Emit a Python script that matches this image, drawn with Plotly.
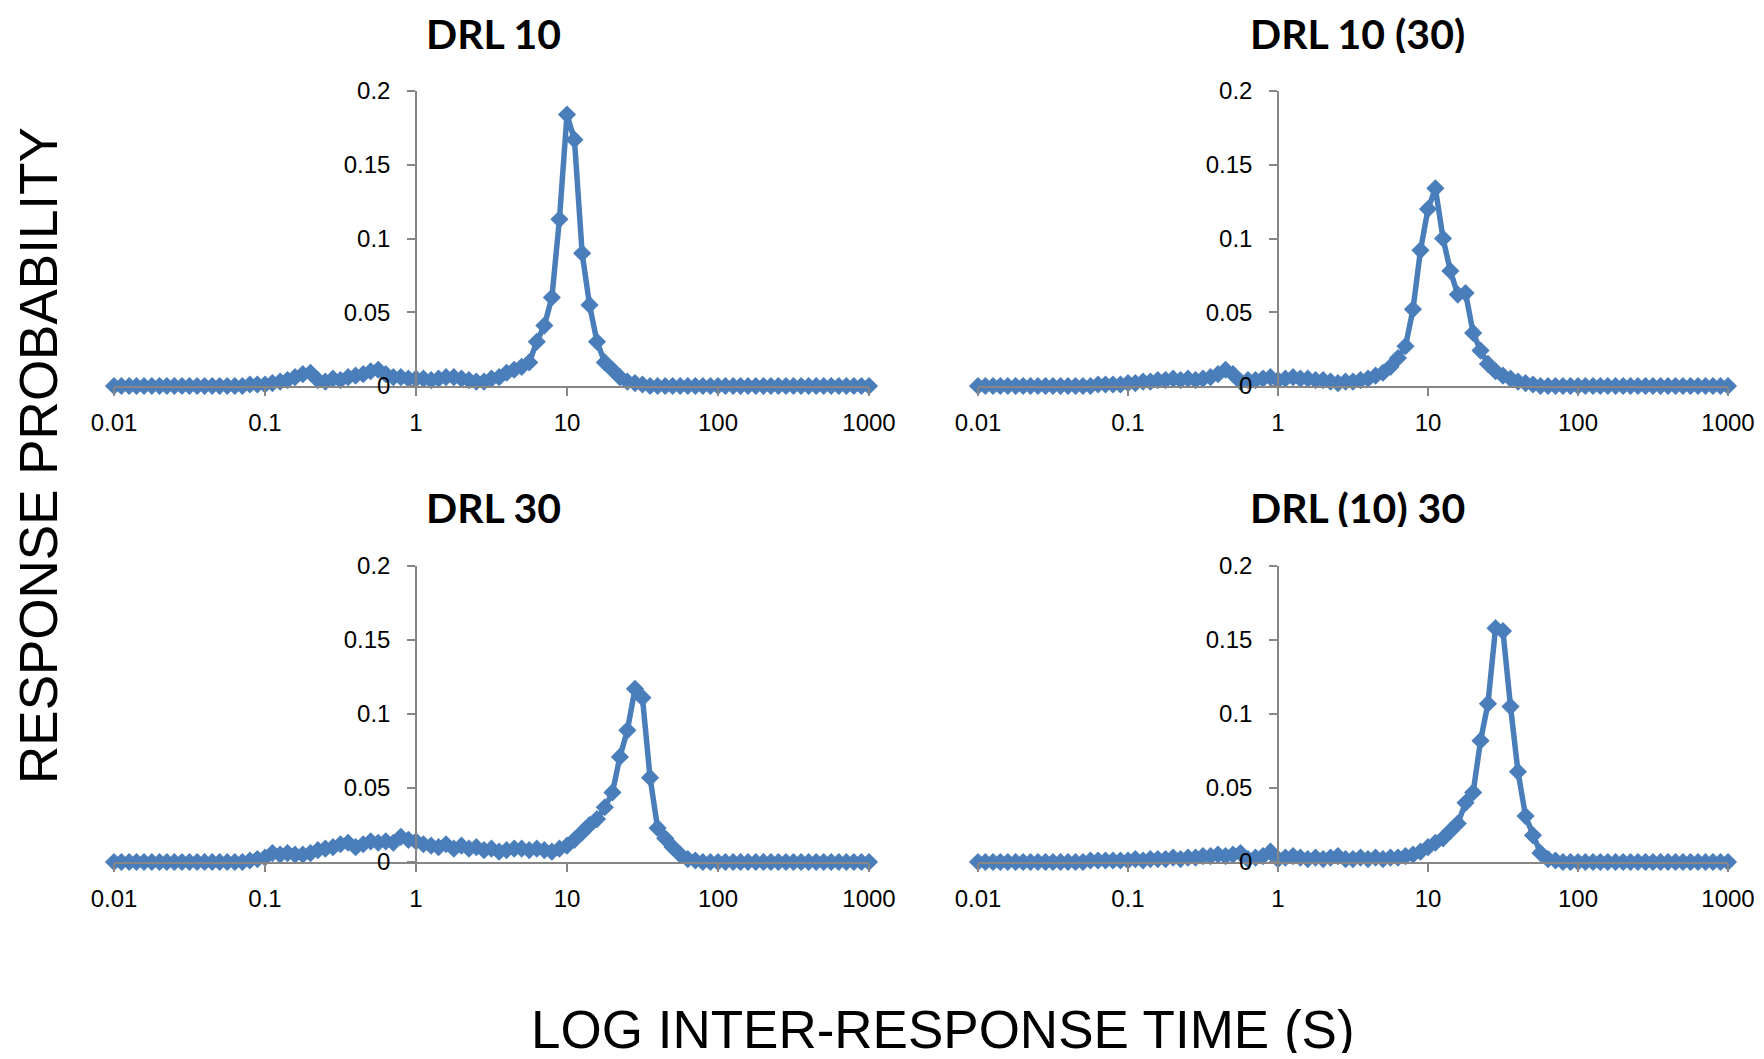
import plotly.graph_objects as go

# Inter-response time bins (s), log-spaced
irt_s = [
    0.01, 0.0112, 0.0126, 0.0141, 0.0158, 0.0178, 0.02, 0.0224, 0.0251, 0.0282,
    0.0316, 0.0355, 0.0398, 0.0447, 0.0501, 0.0562, 0.0631, 0.0708, 0.0794, 0.0891,
    0.1, 0.112, 0.126, 0.141, 0.158, 0.178, 0.2, 0.224, 0.251, 0.282,
    0.316, 0.355, 0.398, 0.447, 0.501, 0.562, 0.631, 0.708, 0.794, 0.891,
    1, 1.12, 1.26, 1.41, 1.58, 1.78, 2, 2.24, 2.51, 2.82,
    3.16, 3.55, 3.98, 4.47, 5.01, 5.62, 6.31, 7.08, 7.94, 8.91,
    10, 11.2, 12.6, 14.1, 15.8, 17.8, 20, 22.4, 25.1, 28.2,
    31.6, 35.5, 39.8, 44.7, 50.1, 56.2, 63.1, 70.8, 79.4, 89.1,
    100, 112, 126, 141, 158, 178, 200, 224, 251, 282,
    316, 355, 398, 447, 501, 562, 631, 708, 794, 891,
    1000,
]

drl10 = [
    0, 0, 0, 0, 0, 0, 0, 0, 0, 0,
    0, 0, 0, 0, 0, 0, 0, 0, 0.001, 0.001,
    0.001, 0.002, 0.003, 0.004, 0.006, 0.008, 0.009, 0.004, 0.003, 0.005,
    0.004, 0.006, 0.007, 0.008, 0.010, 0.011, 0.008, 0.006, 0.006, 0.005,
    0.005, 0.005, 0.004, 0.005, 0.006, 0.006, 0.005, 0.004, 0.003, 0.003,
    0.005, 0.006, 0.009, 0.011, 0.013, 0.016, 0.030, 0.041, 0.060, 0.113,
    0.184, 0.167, 0.090, 0.055, 0.030, 0.016, 0.011, 0.006, 0.003, 0.002,
    0.001, 0, 0, 0, 0, 0, 0, 0, 0, 0,
    0, 0, 0, 0, 0, 0, 0, 0, 0, 0,
    0, 0, 0, 0, 0, 0, 0, 0, 0, 0,
    0,
]

drl10_30 = [
    0, 0, 0, 0, 0, 0, 0, 0, 0, 0,
    0, 0, 0, 0, 0, 0, 0.001, 0.001, 0.001, 0.001,
    0.002, 0.002, 0.003, 0.003, 0.004, 0.004, 0.005, 0.004, 0.005, 0.004,
    0.005, 0.006, 0.008, 0.011, 0.008, 0.003, 0.004, 0.004, 0.005, 0.006,
    0.004, 0.005, 0.006, 0.005, 0.005, 0.004, 0.004, 0.003, 0.002, 0.003,
    0.003, 0.004, 0.005, 0.007, 0.009, 0.013, 0.019, 0.027, 0.052, 0.092,
    0.120, 0.134, 0.100, 0.078, 0.062, 0.063, 0.036, 0.024, 0.015, 0.010,
    0.007, 0.005, 0.003, 0.002, 0.001, 0, 0, 0, 0, 0,
    0, 0, 0, 0, 0, 0, 0, 0, 0, 0,
    0, 0, 0, 0, 0, 0, 0, 0, 0, 0,
    0,
]

drl30 = [
    0, 0, 0, 0, 0, 0, 0, 0, 0, 0,
    0, 0, 0, 0, 0, 0, 0, 0, 0.001, 0.002,
    0.003, 0.006, 0.005, 0.006, 0.005, 0.005, 0.006, 0.008, 0.009, 0.010,
    0.012, 0.013, 0.010, 0.012, 0.014, 0.013, 0.014, 0.013, 0.017, 0.015,
    0.014, 0.012, 0.011, 0.010, 0.012, 0.009, 0.011, 0.009, 0.010, 0.008,
    0.009, 0.007, 0.008, 0.009, 0.009, 0.008, 0.009, 0.008, 0.007, 0.009,
    0.011, 0.015, 0.020, 0.025, 0.029, 0.037, 0.047, 0.071, 0.089, 0.117,
    0.111, 0.057, 0.023, 0.016, 0.010, 0.005, 0.002, 0.001, 0, 0,
    0, 0, 0, 0, 0, 0, 0, 0, 0, 0,
    0, 0, 0, 0, 0, 0, 0, 0, 0, 0,
    0,
]

drl_10_30 = [
    0, 0, 0, 0, 0, 0, 0, 0, 0, 0,
    0, 0, 0, 0, 0, 0.001, 0.001, 0.001, 0.001, 0.001,
    0.001, 0.002, 0.001, 0.002, 0.002, 0.002, 0.003, 0.002, 0.003, 0.003,
    0.004, 0.004, 0.005, 0.004, 0.005, 0.006, 0.002, 0.003, 0.004, 0.007,
    0.002, 0.003, 0.004, 0.003, 0.002, 0.003, 0.002, 0.003, 0.004, 0.002,
    0.002, 0.003, 0.002, 0.003, 0.002, 0.003, 0.003, 0.004, 0.005, 0.007,
    0.010, 0.013, 0.016, 0.021, 0.026, 0.040, 0.047, 0.082, 0.107, 0.158,
    0.156, 0.105, 0.061, 0.031, 0.018, 0.006, 0.002, 0.001, 0, 0,
    0, 0, 0, 0, 0, 0, 0, 0, 0, 0,
    0, 0, 0, 0, 0, 0, 0, 0, 0, 0,
    0,
]

panel_titles = ["DRL 10", "DRL 10 (30)", "DRL 30", "DRL (10) 30"]
series = [drl10, drl10_30, drl30, drl_10_30]
x_tickvals = [0.01, 0.1, 1, 10, 100, 1000]
x_ticktext = ["0.01", "0.1", "1", "10", "100", "1000"]
y_tickvals = [0, 0.05, 0.1, 0.15, 0.2]
y_ticktext = ["0", "0.05", "0.1", "0.15", "0.2"]

W, H = 1764, 1059
OFF = 8  # page body margin offset
BLUE = "#4A7EBB"
GRAY = "#868686"


def px(v):
    return (v - OFF) / W


def py(v):
    return 1 - (v - OFF) / H


# panel geometry in page pixels: (x of 0.01, x of 1000, x of value 1, y of 0, y of 0.2)
panels = [
    (114, 869, 416, 386, 91),
    (978, 1728, 1278, 386, 91),
    (114, 869, 416, 862, 566),
    (978, 1728, 1278, 862, 566),
]
title_pos = [(493, 33), (1357, 33), (493, 507), (1357, 507)]

fig = go.Figure()
layout = dict(width=W, height=H,
              margin=dict(l=0, r=0, t=0, b=0, pad=0, autoexpand=False),
              paper_bgcolor="white", plot_bgcolor="white", showlegend=False)

tick_font = dict(family="Liberation Sans, Arial, sans-serif", size=24, color="#000000")

for k, (ys, (x0, x1, xa, y0, y1)) in enumerate(zip(series, panels)):
    n = "" if k == 0 else str(k + 1)
    fig.add_trace(go.Scatter(
        x=irt_s, y=ys, mode="lines+markers",
        line=dict(color=BLUE, width=5.5),
        marker=dict(symbol="diamond", size=14, color=BLUE),
        xaxis="x" + n, yaxis="y" + n, cliponaxis=False,
    ))
    layout["xaxis" + n] = dict(
        type="log", range=[-2, 3], domain=[px(x0), px(x1)],
        anchor="y" + n, showgrid=False, zeroline=False, automargin=False,
        showline=True, linecolor=GRAY, linewidth=1.5,
        ticks="outside", ticklen=8, tickwidth=1.5, tickcolor=GRAY,
        tickvals=x_tickvals, ticktext=x_ticktext, tickfont=tick_font,
        ticklabelstandoff=6,
    )
    layout["yaxis" + n] = dict(
        range=[0, 0.2], domain=[py(y0), py(y1)],
        anchor="free", position=px(xa), showgrid=False, zeroline=False, automargin=False,
        showline=True, linecolor=GRAY, linewidth=1.5,
        ticks="outside", ticklen=8, tickwidth=1.5, tickcolor=GRAY,
        tickvals=y_tickvals, ticktext=y_ticktext, tickfont=tick_font,
        ticklabelstandoff=12,
    )

annotations = []
for t, (tx, ty) in zip(panel_titles, title_pos):
    annotations.append(dict(
        text="<b>" + t + "</b>", x=px(tx), y=py(ty), xref="paper", yref="paper",
        showarrow=False, xanchor="center", yanchor="middle", height=40,
        font=dict(family="Lato, Open Sans, sans-serif", size=41, color="#000000"),
    ))
annotations.append(dict(
    text="RESPONSE PROBABILITY", x=px(38), y=py(456), xref="paper", yref="paper",
    showarrow=False, textangle=-90, xanchor="center", yanchor="middle", height=48,
    font=dict(family="Liberation Sans, Arial, sans-serif", size=53, color="#000000"),
))
annotations.append(dict(
    text="LOG INTER-RESPONSE TIME (S)", x=px(943), y=py(1029), xref="paper", yref="paper",
    showarrow=False, xanchor="center", yanchor="middle", height=48,
    font=dict(family="Liberation Sans, Arial, sans-serif", size=53, color="#000000"),
))
layout["annotations"] = annotations
fig.update_layout(**layout)
fig.write_html("out.html")
